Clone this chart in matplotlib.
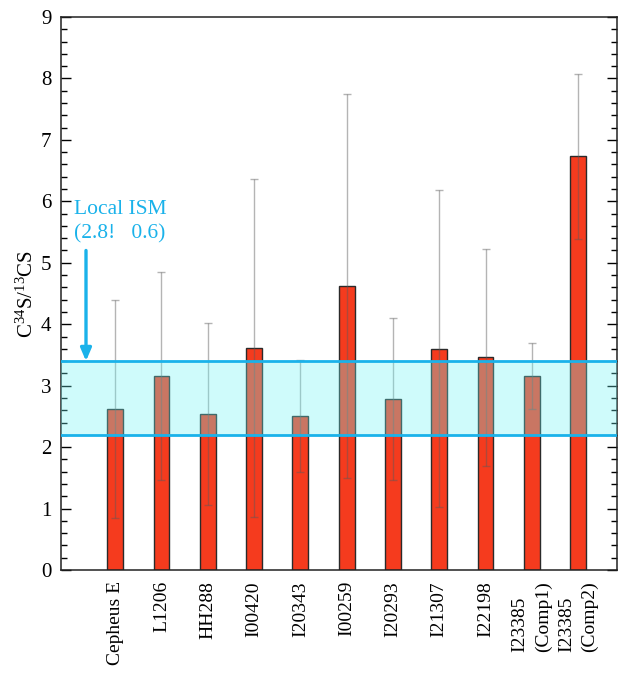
import matplotlib
matplotlib.use("Agg")
import matplotlib.pyplot as plt
import numpy as np

categories = ["Cepheus E", "L1206", "HH288", "I00420", "I20343", "I00259",
              "I20293", "I21307", "I22198", "I23385\n(Comp1)", "I23385\n(Comp2)"]
ratios = [2.62, 3.16, 2.545, 3.61, 2.50, 4.62, 2.78, 3.60, 3.46, 3.16, 6.73]
errors = [1.78, 1.69, 1.48, 2.75, 0.91, 3.12, 1.32, 2.58, 1.77, 0.535, 1.35]
ism_value = 2.8
ism_err = 0.6
y_ticks = [0, 1, 2, 3, 4, 5, 6, 7, 8, 9]

plt.rcParams['font.family'] = ['Liberation Serif', 'DejaVu Serif']
plt.rcParams['mathtext.fontset'] = 'custom'
plt.rcParams['mathtext.rm'] = 'Liberation Serif'
plt.rcParams['mathtext.it'] = 'Liberation Serif:italic'

fig = plt.figure(figsize=(6.32, 6.75), dpi=100)
ax = fig.add_axes([61/632, 1-570/675, 556/632, 553/675])

x = np.arange(len(categories))
bar_red = '#f53b1e'
blue = '#1ab2ea'

ax.bar(x, ratios, width=0.34, color=bar_red, edgecolor='#2a2a2a', linewidth=1.0, zorder=2)
ax.errorbar(x, ratios, yerr=errors, fmt='none', ecolor='#5a5a5a', alpha=0.45,
            elinewidth=1.0, capsize=3, capthick=1.0, zorder=3)

ax.axhspan(ism_value - ism_err, ism_value + ism_err, facecolor='#6cf5f5', alpha=0.32,
           edgecolor='none', zorder=4)
ax.axhline(ism_value - ism_err, color=blue, lw=2.0, zorder=5)
ax.axhline(ism_value + ism_err, color=blue, lw=2.0, zorder=5)

ax.annotate('', xy=(-0.63, ism_value + ism_err), xytext=(-0.63, 5.2),
            arrowprops=dict(arrowstyle='-|>,head_length=0.75,head_width=0.32',
                            color=blue, lw=2.4, shrinkA=0, shrinkB=0), zorder=6)
ax.text(-0.89, 5.79, 'Local ISM', color=blue, fontsize=15.5, ha='left', va='baseline')
ax.text(-0.89, 5.40, '(2.8!   0.6)', color=blue, fontsize=15.5, ha='left', va='baseline')

ax.set_xlim(-1.17, 10.84)
ax.set_ylim(0, 9)
ax.set_yticks(y_ticks)
ax.set_yticklabels([str(t) for t in y_ticks], fontsize=15)
ax.yaxis.set_minor_locator(matplotlib.ticker.MultipleLocator(0.2))
ax.tick_params(axis='y', which='major', direction='in', length=7, width=1.0,
               left=True, right=True, pad=7)
ax.tick_params(axis='y', which='minor', direction='in', length=4, width=1.0,
               left=True, right=True)
ax.set_xticks(x)
ax.set_xticklabels(categories, rotation=90, fontsize=14, va='top', ha='center',
                   multialignment='left', linespacing=1.45)
ax.tick_params(axis='x', which='both', length=0, pad=8)

for s in ax.spines.values():
    s.set_linewidth(1.1)
    s.set_color('#222222')

ax.set_ylabel('C$^{34}$S/$^{13}$CS', fontsize=15, labelpad=2)

fig.savefig('out.png', dpi=100)
